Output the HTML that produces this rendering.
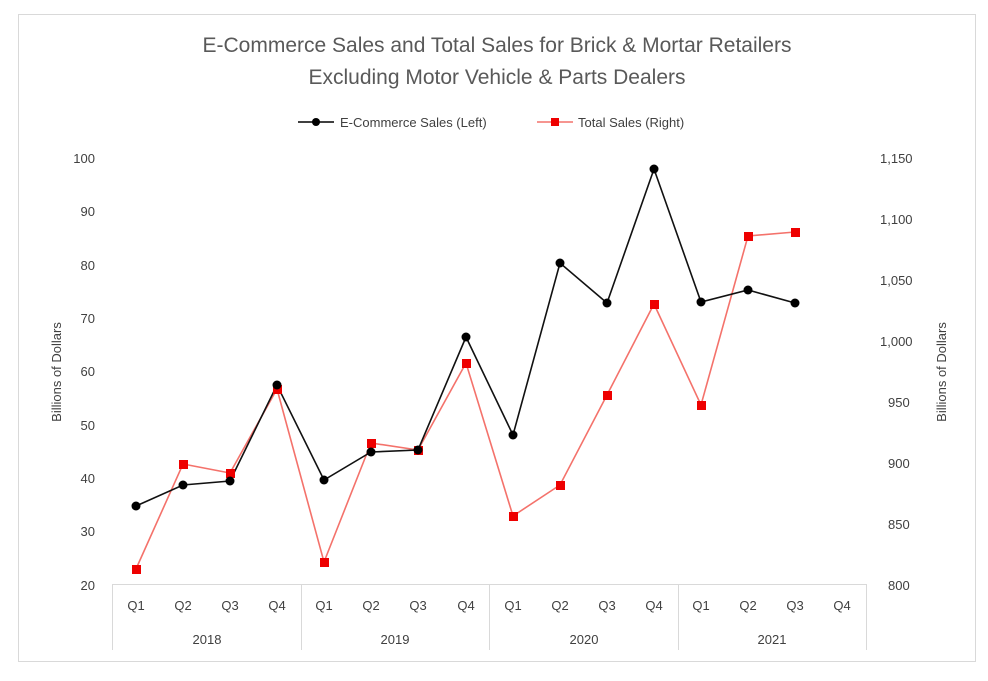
<!DOCTYPE html>
<html><head><meta charset="utf-8"><style>
body{margin:0;background:#fff}
svg text{font-family:"Liberation Sans",sans-serif;fill:#404040}
</style></head><body>
<svg width="988" height="676" xmlns="http://www.w3.org/2000/svg">
<rect x="18.5" y="14.5" width="957" height="647" fill="#fff" stroke="#d9d9d9"/>
<text x="497" y="52" font-size="21" text-anchor="middle" style="fill:#595959">E-Commerce Sales and Total Sales for Brick &amp; Mortar Retailers</text>
<text x="497" y="84" font-size="21" text-anchor="middle" style="fill:#595959">Excluding Motor Vehicle &amp; Parts Dealers</text>
<line x1="298" y1="122" x2="334" y2="122" stroke="#000" stroke-width="1.5"/><circle cx="316" cy="122" r="4" fill="#000"/>
<text x="340" y="127" font-size="13">E-Commerce Sales (Left)</text>
<line x1="537" y1="122" x2="573" y2="122" stroke="#f4726b" stroke-width="1.5"/><rect x="551" y="118" width="8" height="8" fill="#e00"/>
<text x="578" y="127" font-size="13">Total Sales (Right)</text>
<g font-size="13" text-anchor="end">
<text x="95" y="163">100</text><text x="95" y="216">90</text><text x="95" y="270">80</text><text x="95" y="323">70</text><text x="95" y="376">60</text><text x="95" y="430">50</text><text x="95" y="483">40</text><text x="95" y="536">30</text><text x="95" y="590">20</text>
</g>
<g font-size="13" text-anchor="start">
<text x="880" y="163">1,150</text><text x="880" y="224">1,100</text><text x="880" y="285">1,050</text><text x="880" y="346">1,000</text><text x="888" y="407">950</text><text x="888" y="468">900</text><text x="888" y="529">850</text><text x="888" y="590">800</text>
</g>
<text transform="translate(61,372) rotate(-90)" font-size="13" text-anchor="middle">Billions of Dollars</text>
<text transform="translate(946,372) rotate(-90)" font-size="13" text-anchor="middle">Billions of Dollars</text>
<g stroke="#d9d9d9" stroke-width="1">
<line x1="112" y1="584.5" x2="866" y2="584.5"/>
<line x1="112.5" y1="584" x2="112.5" y2="650"/><line x1="301.5" y1="584" x2="301.5" y2="650"/><line x1="489.5" y1="584" x2="489.5" y2="650"/><line x1="678.5" y1="584" x2="678.5" y2="650"/><line x1="866.5" y1="584" x2="866.5" y2="650"/>
</g>
<g font-size="13" text-anchor="middle">
<text x="136" y="610">Q1</text><text x="183" y="610">Q2</text><text x="230" y="610">Q3</text><text x="277" y="610">Q4</text>
<text x="324" y="610">Q1</text><text x="371" y="610">Q2</text><text x="418" y="610">Q3</text><text x="466" y="610">Q4</text>
<text x="513" y="610">Q1</text><text x="560" y="610">Q2</text><text x="607" y="610">Q3</text><text x="654" y="610">Q4</text>
<text x="701" y="610">Q1</text><text x="748" y="610">Q2</text><text x="795" y="610">Q3</text><text x="842" y="610">Q4</text>
<text x="207" y="644">2018</text><text x="395" y="644">2019</text><text x="584" y="644">2020</text><text x="772" y="644">2021</text>
</g>
<polyline fill="none" stroke="#f4726b" stroke-width="1.6" points="136,569 183,464 230,473 277,389 324,562 371,443 418,450 466,363 513,516 560,485 607,395 654,304 701,405 748,236 795,232"/>
<polyline fill="none" stroke="#111" stroke-width="1.6" points="136,506 183,485 230,481 277,385 324,480 371,452 418,450 466,337 513,435 560,263 607,303 654,169 701,302 748,290 795,303"/>
<g fill="#e00">
<rect x="132" y="565" width="9" height="9"/><rect x="179" y="460" width="9" height="9"/><rect x="226" y="469" width="9" height="9"/><rect x="273" y="385" width="9" height="9"/><rect x="320" y="558" width="9" height="9"/><rect x="367" y="439" width="9" height="9"/><rect x="414" y="446" width="9" height="9"/><rect x="462" y="359" width="9" height="9"/><rect x="509" y="512" width="9" height="9"/><rect x="556" y="481" width="9" height="9"/><rect x="603" y="391" width="9" height="9"/><rect x="650" y="300" width="9" height="9"/><rect x="697" y="401" width="9" height="9"/><rect x="744" y="232" width="9" height="9"/><rect x="791" y="228" width="9" height="9"/>
</g>
<g fill="#000">
<circle cx="136" cy="506" r="4.5"/><circle cx="183" cy="485" r="4.5"/><circle cx="230" cy="481" r="4.5"/><circle cx="277" cy="385" r="4.5"/><circle cx="324" cy="480" r="4.5"/><circle cx="371" cy="452" r="4.5"/><circle cx="418" cy="450" r="4.5"/><circle cx="466" cy="337" r="4.5"/><circle cx="513" cy="435" r="4.5"/><circle cx="560" cy="263" r="4.5"/><circle cx="607" cy="303" r="4.5"/><circle cx="654" cy="169" r="4.5"/><circle cx="701" cy="302" r="4.5"/><circle cx="748" cy="290" r="4.5"/><circle cx="795" cy="303" r="4.5"/>
</g>
</svg>
</body></html>
